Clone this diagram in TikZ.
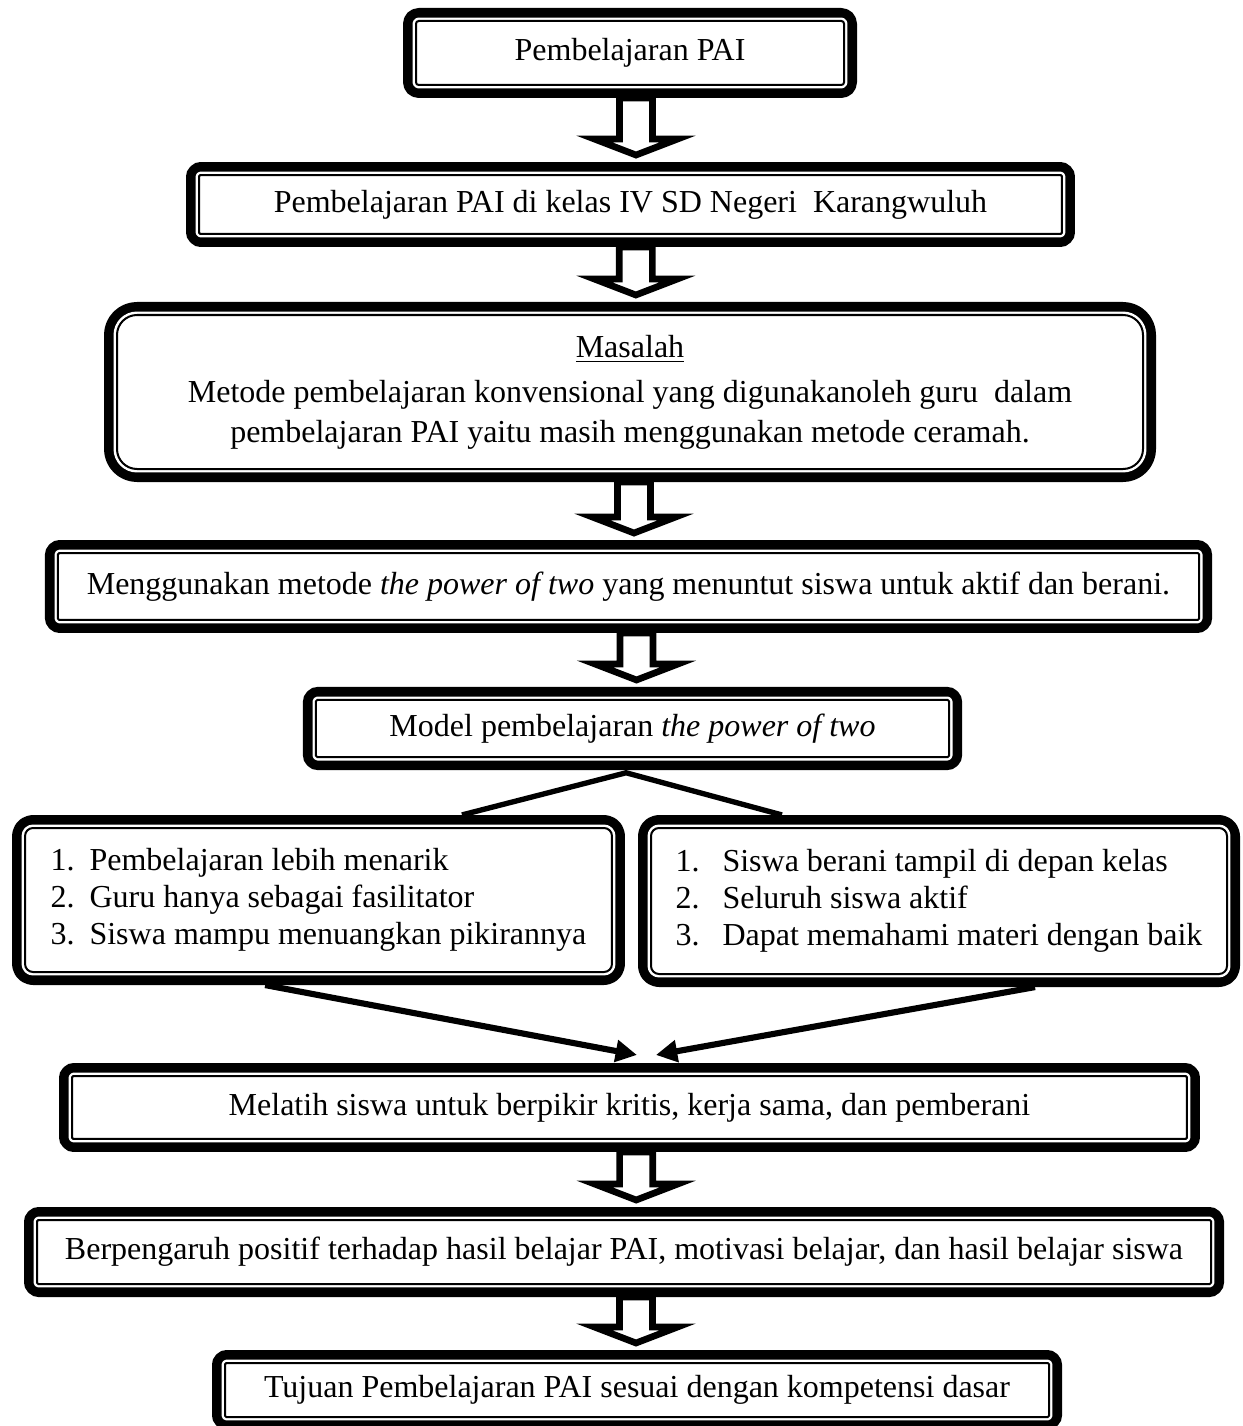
\documentclass[tikz,border=0pt]{standalone}
\usepackage{fontspec}
\setmainfont{Liberation Serif}
\usetikzlibrary{calc,arrows.meta}

\begin{document}
\begin{tikzpicture}[x=0.375pt,y=-0.375pt,
    kotak/.style={draw,line width=0.75pt,fill=white,rounded corners=#1,
      outer sep=4.9pt,inner sep=0pt,align=center,
      font=\fontsize{12}{13.9}\selectfont,
      preaction={draw=black,fill=none,line width=9.75pt,line join=round},
      preaction={draw=white,fill=none,line width=2.6pt,line join=round}},
    kotak/.default=1pt,
    blok/.style={draw,line width=2.5pt,fill=white,
      to path={let \p1=(\tikztostart),\p2=(\tikztotarget) in
        (\x1-6.2pt,\y1) -- (\x1-6.2pt,\y2+8.6pt) -- (\x1-15.6pt,\y2+8.6pt)
        -- (\x1,\y2+2.6pt) -- (\x1+15.6pt,\y2+8.6pt) -- (\x1+6.2pt,\y2+8.6pt)
        -- (\x1+6.2pt,\y1) -- cycle}},
    garis/.style={line width=2pt},
    panah/.style={line width=2.3pt,-{Triangle[length=8pt,width=8pt]}}]
    \useasboundingbox (0,0) rectangle (1242,1426);

    \node[kotak,minimum width=160.5pt,minimum height=24pt] (pai) at (630,53)
      {Pembelajaran PAI};
    \node[kotak=0.5pt,minimum width=323.6pt,minimum height=22.1pt] (kelas) at (630.5,204.5)
      {Pembelajaran PAI di kelas IV SD Negeri~ Karangwuluh};
    \node[kotak=7.5pt,minimum width=384.75pt,minimum height=57.75pt,
      font=\fontsize{12}{15}\selectfont] (masalah) at (630,392)
      {\underline{Masalah}\\[1.9pt]
       Metode pembelajaran konvensional yang digunakanoleh guru~ dalam\\
       pembelajaran PAI yaitu masih menggunakan metode ceramah.};
    \node[kotak=0.5pt,minimum width=427.9pt,minimum height=25.1pt] (metode) at (628.5,586.5)
      {Menggunakan metode \textit{the power of two} yang menuntut siswa untuk aktif dan berani.};
    \node[kotak=0.5pt,minimum width=237.4pt,minimum height=21.4pt] (model) at (632.5,728.5)
      {Model pembelajaran \textit{the power of two}};
    \node[kotak=3pt,minimum width=220.1pt,minimum height=54pt,align=left] (kiri) at (318.5,900)
      {\makebox[14.6pt][l]{1.}Pembelajaran lebih menarik\\
       \makebox[14.6pt][l]{2.}Guru hanya sebagai fasilitator\\
       \makebox[14.6pt][l]{3.}Siswa mampu menuangkan pikirannya};
    \node[kotak=3pt,minimum width=216pt,minimum height=54.75pt,align=left] (kanan) at (939,901)
      {\makebox[17.6pt][l]{1.}Siswa berani tampil di depan kelas\\
       \makebox[17.6pt][l]{2.}Seluruh siswa aktif\\
       \makebox[17.6pt][l]{3.}Dapat memahami materi dengan baik};
    \node[kotak=0.5pt,minimum width=418.1pt,minimum height=23.6pt] (melatih) at (629.5,1107.5)
      {Melatih siswa untuk berpikir kritis, kerja sama, dan pemberani};
    \node[kotak=0.5pt,minimum width=440.25pt,minimum height=24pt] (pengaruh) at (624,1252)
      {Berpengaruh positif terhadap hasil belajar PAI, motivasi belajar, dan hasil belajar siswa};
    \node[kotak=0.5pt,minimum width=309pt,minimum height=20.25pt] (tujuan) at (637,1390)
      {Tujuan Pembelajaran PAI sesuai dengan kompetensi dasar};

    \draw[blok] ([xshift=2.25pt]pai.south) to (kelas.north);
    \draw[blok] ([xshift=2pt]kelas.south) to (masalah.north);
    \draw[blok] ([xshift=1.5pt]masalah.south) to (metode.north);
    \draw[blok] ([xshift=3pt]metode.south) to (model.north);
    \draw[blok] ([xshift=2.5pt]melatih.south) to (pengaruh.north);
    \draw[blok] ([xshift=4.5pt]pengaruh.south) to (tujuan.north);

    \draw[garis] ([xshift=53.8pt]kiri.north) -- ([xshift=-2.4pt,yshift=-1pt]model.south)
      -- ([xshift=-58.9pt]kanan.north);
    \draw[panah] ([xshift=-20pt]kiri.south) -- ([xshift=2.8pt,yshift=3pt]melatih.north);
    \draw[panah] ([xshift=36pt]kanan.south) -- ([xshift=9.9pt,yshift=3pt]melatih.north);
\end{tikzpicture}
\end{document}
